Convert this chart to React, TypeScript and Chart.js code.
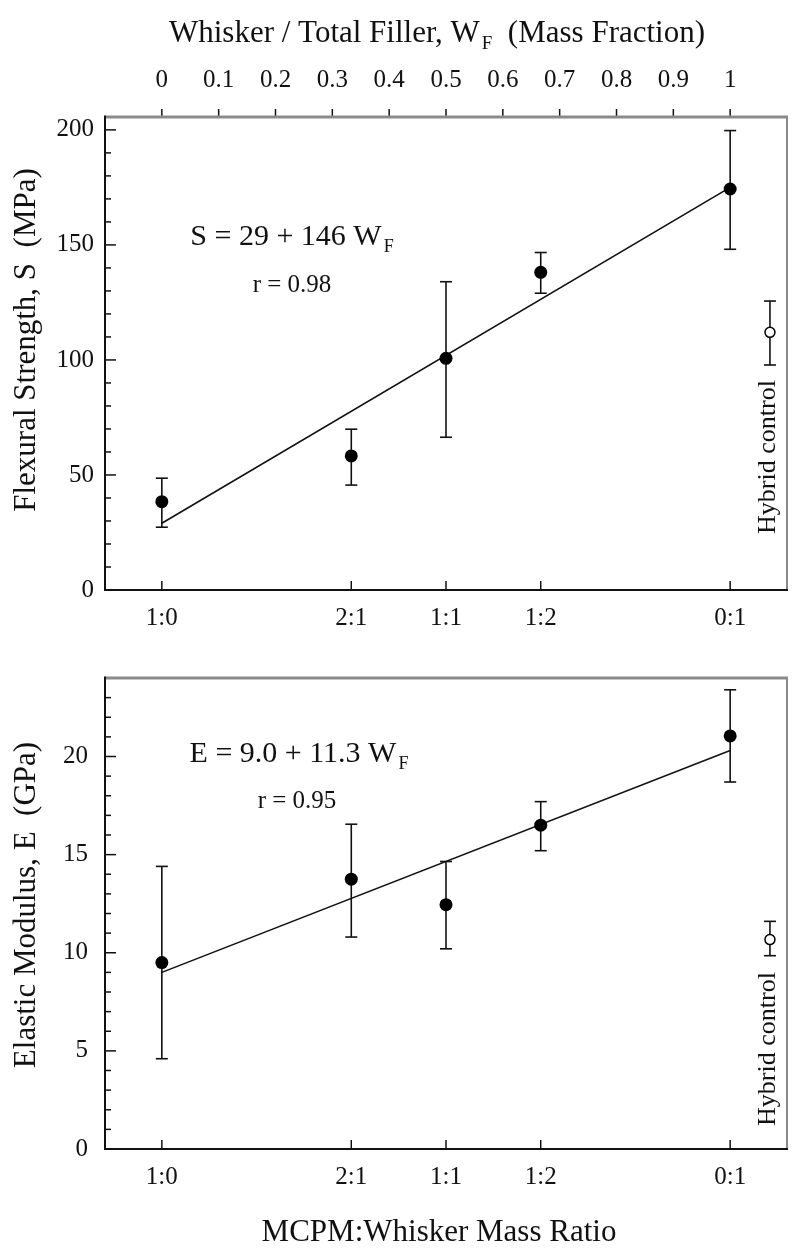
import React, { useEffect, useRef } from 'react';
import { Chart, registerables } from 'chart.js';

Chart.register(...registerables);

// ---------------- data ----------------
const ratioLabels = ['1:0', '2:1', '1:1', '1:2', '0:1'];
const whiskerFraction = [0, 1 / 3, 0.5, 2 / 3, 1];
const fractionTicks = [0, 0.1, 0.2, 0.3, 0.4, 0.5, 0.6, 0.7, 0.8, 0.9, 1];
const fractionTickLabels = ['0', '0.1', '0.2', '0.3', '0.4', '0.5', '0.6', '0.7', '0.8', '0.9', '1'];

const strengthMean = [38.4, 58.3, 100.7, 138.1, 174.3];
const strengthLow = [27.3, 45.6, 66.4, 129.0, 148.1];
const strengthHigh = [48.6, 69.9, 134.0, 146.7, 199.7];
const strengthFitEnds = [29, 175];
const strengthTicks = [0, 50, 100, 150, 200];

const modulusMean = [9.5, 13.75, 12.45, 16.5, 21.05];
const modulusLow = [4.6, 10.8, 10.2, 15.2, 18.7];
const modulusHigh = [14.4, 16.55, 14.65, 17.7, 23.4];
const modulusFitEnds = [9.0, 20.3];
const modulusTicks = [0, 5, 10, 15, 20];

const hybridFraction = 1.07;
const hybridStrength = [97.8, 112, 125.6]; // low, mean, high
const hybridModulus = [9.85, 10.67, 11.6]; // low, mean, high

// ---------------- styling helpers ----------------
const FONT = '"Liberation Serif", "Times New Roman", Times, serif';
const INK = '#111111';
const FRAME_GRAY = '#8a8a8a';

type Part = { t: string; size: number; dy?: number; dx?: number };

function drawRich(ctx: CanvasRenderingContext2D, parts: Part[], cx: number, baseline: number) {
  ctx.save();
  ctx.fillStyle = INK;
  ctx.textBaseline = 'alphabetic';
  ctx.textAlign = 'left';
  let total = 0;
  const widths = parts.map((p) => {
    ctx.font = `${p.size}px ${FONT}`;
    const w = ctx.measureText(p.t).width + (p.dx || 0);
    total += w;
    return w;
  });
  let x = cx - total / 2;
  parts.forEach((p, i) => {
    ctx.font = `${p.size}px ${FONT}`;
    ctx.fillText(p.t, x + (p.dx || 0), baseline + (p.dy || 0));
    x += widths[i];
  });
  ctx.restore();
}

function drawRotated(ctx: CanvasRenderingContext2D, text: string, size: number, cx: number, cy: number) {
  ctx.save();
  ctx.translate(cx, cy);
  ctx.rotate(-Math.PI / 2);
  ctx.font = `${size}px ${FONT}`;
  ctx.fillStyle = INK;
  ctx.textAlign = 'center';
  ctx.textBaseline = 'middle';
  ctx.fillText(text, 0, 0);
  ctx.restore();
}

function line(ctx: CanvasRenderingContext2D, x1: number, y1: number, x2: number, y2: number) {
  ctx.beginPath();
  ctx.moveTo(x1, y1);
  ctx.lineTo(x2, y2);
  ctx.stroke();
}

interface Spec {
  mean: number[];
  low: number[];
  high: number[];
  fitEnds: number[];
  hybrid: number[];
  yMax: number;
  yTicks: number[];
  yMinor: number;
  yMajor: number;
  yLabelPad: number;
  topAxis: boolean;
  padTop: number;
  xAxisHeight: number;
  texts: (ctx: CanvasRenderingContext2D) => void;
}

function buildChart(canvas: HTMLCanvasElement, s: Spec) {
  const points = whiskerFraction.map((x, i) => ({ x, y: s.mean[i] }));
  const fit = [
    { x: whiskerFraction[0], y: s.fitEnds[0] },
    { x: whiskerFraction[whiskerFraction.length - 1], y: s.fitEnds[1] },
  ];
  const hyb = [{ x: hybridFraction, y: s.hybrid[1] }];
  const tickFont = { family: FONT, size: 25 };

  const scales: any = {
    x: {
      type: 'linear',
      position: 'bottom',
      min: -0.1,
      max: 1.1,
      afterBuildTicks: (sc: any) => {
        sc.ticks = whiskerFraction.map((v) => ({ value: v }));
      },
      ticks: {
        autoSkip: false,
        maxRotation: 0,
        padding: 13,
        font: tickFont,
        color: INK,
        callback: (_v: any, i: number) => ratioLabels[i],
      },
      grid: { display: false, drawTicks: false },
      border: { display: false },
      afterFit: (sc: any) => {
        sc.height = s.xAxisHeight;
      },
    },
    y: {
      type: 'linear',
      position: 'left',
      min: 0,
      max: s.yMax,
      afterBuildTicks: (sc: any) => {
        sc.ticks = s.yTicks.map((v) => ({ value: v }));
      },
      ticks: {
        padding: s.yLabelPad,
        font: tickFont,
        color: INK,
        callback: (v: any) => String(v),
      },
      grid: { display: false, drawTicks: false },
      border: { display: false },
      afterFit: (sc: any) => {
        sc.width = 105;
      },
    },
  };
  if (s.topAxis) {
    scales.x2 = {
      type: 'linear',
      position: 'top',
      min: -0.1,
      max: 1.1,
      afterBuildTicks: (sc: any) => {
        sc.ticks = fractionTicks.map((v) => ({ value: v }));
      },
      ticks: {
        autoSkip: false,
        maxRotation: 0,
        padding: 22,
        font: tickFont,
        color: INK,
        callback: (_v: any, i: number) => fractionTickLabels[i],
      },
      grid: { display: false, drawTicks: false },
      border: { display: false },
      afterFit: (sc: any) => {
        sc.height = 117;
      },
    };
  }

  const decor = {
    id: 'decor',
    beforeDatasetsDraw(chart: any) {
      const ctx: CanvasRenderingContext2D = chart.ctx;
      const xs = chart.scales.x;
      const ys = chart.scales.y;
      ctx.save();
      ctx.strokeStyle = INK;
      ctx.lineWidth = 1.6;
      const bar = (xv: number, lo: number, hi: number) => {
        const x = xs.getPixelForValue(xv);
        const y1 = ys.getPixelForValue(lo);
        const y2 = ys.getPixelForValue(hi);
        line(ctx, x, y1, x, y2);
        line(ctx, x - 6, y1, x + 6, y1);
        line(ctx, x - 6, y2, x + 6, y2);
      };
      whiskerFraction.forEach((xv, i) => bar(xv, s.low[i], s.high[i]));
      bar(hybridFraction, s.hybrid[0], s.hybrid[2]);
      ctx.restore();
    },
    afterDraw(chart: any) {
      const ctx: CanvasRenderingContext2D = chart.ctx;
      const { left, right, top, bottom } = chart.chartArea;
      const xs = chart.scales.x;
      const ys = chart.scales.y;
      ctx.save();
      ctx.lineCap = 'butt';
      // y ticks (inward, major + minor)
      ctx.strokeStyle = INK;
      ctx.lineWidth = 1.5;
      for (let v = 0; v <= s.yMax + 1e-9; v += s.yMinor) {
        const y = ys.getPixelForValue(v);
        const r = v / s.yMajor;
        const major = Math.abs(r - Math.round(r)) < 1e-6;
        line(ctx, left, y, left + (major ? 11 : 6), y);
      }
      // bottom ticks (inward)
      whiskerFraction.forEach((v) => {
        const x = xs.getPixelForValue(v);
        line(ctx, x, bottom, x, bottom - 9);
      });
      // top ticks (outward)
      if (s.topAxis) {
        const x2 = chart.scales.x2;
        fractionTicks.forEach((v) => {
          const x = x2.getPixelForValue(v);
          line(ctx, x, top, x, top - 8);
        });
      }
      // frame
      ctx.strokeStyle = FRAME_GRAY;
      ctx.lineWidth = 3;
      line(ctx, left, top, right + 1, top);
      ctx.lineWidth = 2;
      line(ctx, right, top, right, bottom);
      ctx.strokeStyle = INK;
      ctx.lineWidth = 2;
      line(ctx, left, top - 1.5, left, bottom + 1);
      line(ctx, left, bottom, right + 1, bottom);
      ctx.restore();
      s.texts(ctx);
    },
  };

  return new Chart(canvas, {
    type: 'scatter',
    data: {
      datasets: [
        {
          type: 'line',
          data: fit,
          borderColor: INK,
          borderWidth: 1.6,
          pointRadius: 0,
          fill: false,
          tension: 0,
          order: 3,
        } as any,
        {
          type: 'scatter',
          data: points,
          pointRadius: 6.5,
          pointBackgroundColor: '#000',
          pointBorderColor: '#000',
          pointBorderWidth: 0,
          order: 1,
        },
        {
          type: 'scatter',
          data: hyb,
          pointRadius: 5,
          pointBackgroundColor: '#fff',
          pointBorderColor: '#000',
          pointBorderWidth: 1.5,
          order: 1,
        },
      ],
    },
    options: {
      animation: false,
      responsive: false,
      maintainAspectRatio: false,
      layout: { padding: { top: s.padTop, right: 13, bottom: 0, left: 0 } },
      plugins: { legend: { display: false }, tooltip: { enabled: false } },
      scales,
    },
    plugins: [decor],
  });
}

const topSpec: Spec = {
  mean: strengthMean,
  low: strengthLow,
  high: strengthHigh,
  fitEnds: strengthFitEnds,
  hybrid: hybridStrength,
  yMax: 205.6,
  yTicks: strengthTicks,
  yMinor: 10,
  yMajor: 50,
  yLabelPad: 11,
  topAxis: true,
  padTop: 0,
  xAxisHeight: 50,
  texts: (ctx) => {
    drawRich(
      ctx,
      [
        { t: 'Whisker / Total Filler, W', size: 31 },
        { t: 'F', size: 19, dy: 7, dx: 2 },
        { t: '  (Mass Fraction)', size: 31 },
      ],
      437,
      42
    );
    drawRotated(ctx, 'Flexural Strength, S  (MPa)', 31, 27, 340);
    drawRich(ctx, [{ t: 'S = 29 + 146 W', size: 30 }, { t: 'F', size: 18, dy: 7, dx: 2 }], 292, 245);
    drawRich(ctx, [{ t: 'r = 0.98', size: 25 }], 292, 292);
    drawRotated(ctx, 'Hybrid control', 26, 768, 457);
  },
};

const bottomSpec: Spec = {
  mean: modulusMean,
  low: modulusLow,
  high: modulusHigh,
  fitEnds: modulusFitEnds,
  hybrid: hybridModulus,
  yMax: 24,
  yTicks: modulusTicks,
  yMinor: 1,
  yMajor: 5,
  yLabelPad: 17,
  topAxis: false,
  padTop: 38,
  xAxisHeight: 105,
  texts: (ctx) => {
    drawRotated(ctx, 'Elastic Modulus, E  (GPa)', 31, 27, 265);
    drawRich(ctx, [{ t: 'E = 9.0 + 11.3 W', size: 30 }, { t: 'F', size: 18, dy: 7, dx: 2 }], 299, 122);
    drawRich(ctx, [{ t: 'r = 0.95', size: 25 }], 297, 168);
    drawRotated(ctx, 'Hybrid control', 26, 768, 409);
    drawRich(ctx, [{ t: 'MCPM:Whisker Mass Ratio', size: 31 }], 439, 601);
  },
};

export default function App() {
  const topRef = useRef<HTMLCanvasElement>(null);
  const botRef = useRef<HTMLCanvasElement>(null);
  useEffect(() => {
    const c1 = buildChart(topRef.current as HTMLCanvasElement, topSpec);
    const c2 = buildChart(botRef.current as HTMLCanvasElement, bottomSpec);
    return () => {
      c1.destroy();
      c2.destroy();
    };
  }, []);
  return (
    <div style={{ position: 'absolute', left: 0, top: 0, width: 800, height: 1254, background: '#fff' }}>
      <canvas ref={topRef} width={800} height={640} style={{ display: 'block', width: 800, height: 640 }} />
      <canvas ref={botRef} width={800} height={614} style={{ display: 'block', width: 800, height: 614 }} />
    </div>
  );
}
